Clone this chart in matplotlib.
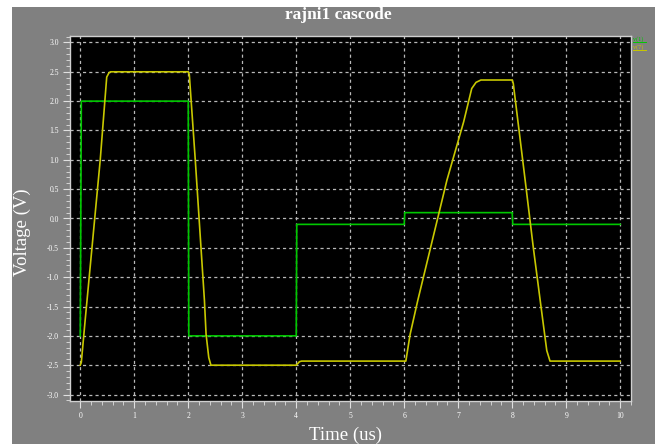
import numpy as np
import matplotlib
matplotlib.use('Agg')
import matplotlib.pyplot as plt
from matplotlib.lines import Line2D
from matplotlib.patches import Rectangle
from matplotlib.ticker import MultipleLocator, FormatStrFormatter

# data (time in us, voltage in V)
t_v1 = [0.0, 0.02, 2.0, 2.01, 4.0, 4.01, 6.0, 6.01, 8.0, 8.01, 10.0]
v_v1 = [-2.0, 2.0, 2.0, -2.0, -2.0, -0.1, -0.1, 0.1, 0.1, -0.1, -0.1]

t_v7 = [0.0, 0.02, 0.09, 0.37, 0.49, 0.53, 0.56,
        2.0, 2.02, 2.13, 2.30, 2.33, 2.38, 2.42,
        4.0, 4.03, 4.06, 4.10,
        6.0, 6.03, 6.11, 6.25, 6.79, 7.10, 7.25, 7.33, 7.42,
        8.0, 8.02, 8.24, 8.39, 8.55, 8.64, 8.70, 10.0]
v_v7 = [-2.5, -2.45, -1.74, 1.0, 2.41, 2.48, 2.5,
        2.5, 2.45, 1.0, -1.40, -1.97, -2.37, -2.5,
        -2.5, -2.47, -2.44, -2.43,
        -2.43, -2.43, -1.97, -1.40, 0.65, 1.645, 2.215, 2.32, 2.36,
        2.36, 2.30, 0.65, -0.49, -1.62, -2.25, -2.43, -2.43]

names = ['v(1)', 'v(7)']
colors = ['#00c800', '#c8c800']

serif = ['Liberation Serif', 'DejaVu Serif']
fig = plt.figure(figsize=(6.62, 4.44), dpi=100, facecolor='white')
# grey panel behind everything
fig.patches.append(Rectangle((12/662, 0), (655-12)/662, (444-7)/444,
                             transform=fig.transFigure, facecolor='#808080',
                             edgecolor='none', zorder=-10))

ax = fig.add_axes([70/662, 43/444, 561/662, 365/444])
ax.set_facecolor('black')

ax.plot(t_v1, v_v1, color=colors[0], lw=1.2, zorder=3)
ax.plot(t_v7, v_v7, color=colors[1], lw=1.2, zorder=4)

ax.set_xlim(-0.19, 10.2)
ax.set_ylim(-3.11, 3.11)
ax.xaxis.set_major_locator(MultipleLocator(1))
ax.xaxis.set_minor_locator(MultipleLocator(0.2))
ax.yaxis.set_major_locator(MultipleLocator(0.5))
ax.yaxis.set_minor_locator(MultipleLocator(0.1))
ax.yaxis.set_major_formatter(FormatStrFormatter('%.1f'))
ax.grid(True, which='major', color='#b8b8b8', ls=(0, (2.5, 2.5)), lw=0.9)

for sp in ax.spines.values():
    sp.set_color('#d0d0d0')
    sp.set_linewidth(1.0)

ax.tick_params(which='major', direction='out', length=5, color='#e0e0e0',
               labelcolor='white', labelsize=5.5, pad=3)
ax.tick_params(which='minor', direction='out', length=3, color='#e0e0e0')
ax.tick_params(axis='x', which='both', top=False)
ax.tick_params(axis='y', which='both', right=False)
for lab in ax.get_xticklabels() + ax.get_yticklabels():
    lab.set_family(serif)

fig.text(338/662, 1 - 15/444, 'rajni1 cascode', ha='center', va='center',
         color='white', fontsize=12.5, fontweight='bold', family=serif)
fig.text(22/662, 1 - 232/444, 'Voltage (V)', ha='center', va='center',
         rotation=90, color='white', fontsize=13.5, family=serif)
fig.text(345/662, 1 - 435/444, 'Time (us)', ha='center', va='center',
         color='white', fontsize=13.5, family=serif)

# little underlined legend at the right edge
for i, (nm, c) in enumerate(zip(names, colors)):
    y = 1 - (39 + 8 * i) / 444
    fig.text(633/662, y, nm, ha='left', va='center', color=c,
             fontsize=4.5, family=serif)
    fig.add_artist(Line2D([633/662, 646/662], [y - 3.5/444, y - 3.5/444],
                          transform=fig.transFigure, color=c, lw=0.7))

fig.savefig('out.png', dpi=100, facecolor=fig.get_facecolor())
